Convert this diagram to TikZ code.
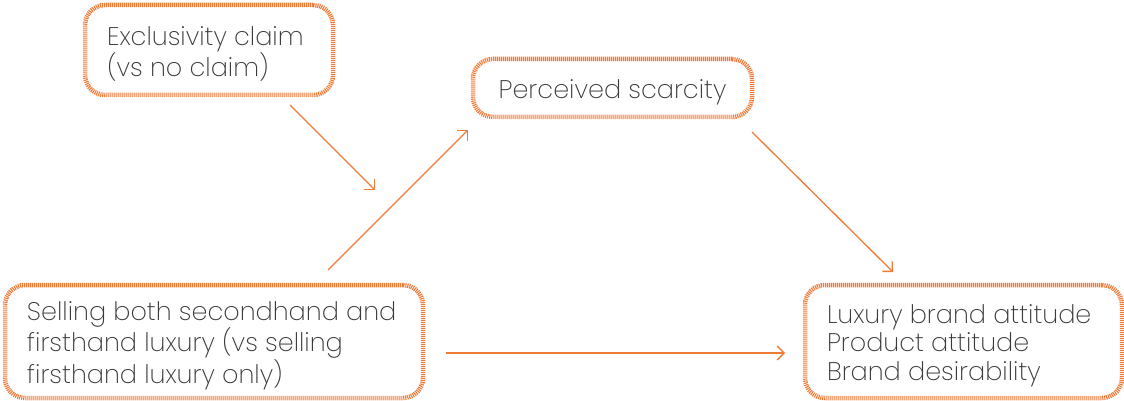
\documentclass[tikz,border=0pt]{standalone}
\usepackage{fontspec}
\setmainfont{Poppins}[UprightFont={* ExtraLight}]
\usetikzlibrary{arrows.meta}
\definecolor{orng}{HTML}{F07A38}
\definecolor{txt}{HTML}{3A3A3A}
\newcommand\tfirst{\rule{0pt}{27pt}}
\begin{document}
\begin{tikzpicture}[x=1pt,y=-1pt,
  box/.style={draw=orng, line width=4.5pt, dash pattern=on 1.1pt off 0.9pt, rounded corners=20pt,
    text=txt, font=\fontsize{25.5}{28.5}\selectfont, inner xsep=22pt, inner ysep=0pt, align=flush left},
  conn/.style={draw=orng, line width=1.3pt, -{Straight Barb[length=7pt,width=14pt,line width=1.3pt]}}]
\useasboundingbox (0,0) rectangle (1124,401);
\node[box, text width=204pt, minimum height=90pt] (excl) at (209,50) {\tfirst Exclusivity claim\\(vs no claim)};
\node[box, align=center, minimum width=279pt, minimum height=58pt] (scar) at (612.5,88) {\tfirst Perceived scarcity};
\node[box, text width=374pt, minimum height=113pt] (sell) at (214,341.5) {\tfirst Selling both secondhand and\\firsthand luxury (vs selling\\firsthand luxury only)};
\node[box, text width=273pt, minimum height=113pt] (out) at (963.5,341.5) {\tfirst Luxury brand attitude\\Product attitude\\Brand desirability};
\coordinate (e1) at (290,105);
\coordinate (e2) at (375,190);
\coordinate (s1) at (328,270);
\coordinate (s2) at (468,130);
\coordinate (c1) at (752,132);
\coordinate (c2) at (893,272);
\coordinate (d1) at (446,353);
\coordinate (d2) at (785,353);
\draw[conn] (e1) -- (e2);
\draw[conn] (s1) -- (s2);
\draw[conn] (c1) -- (c2);
\draw[conn] (d1) -- (d2);
\end{tikzpicture}
\end{document}
